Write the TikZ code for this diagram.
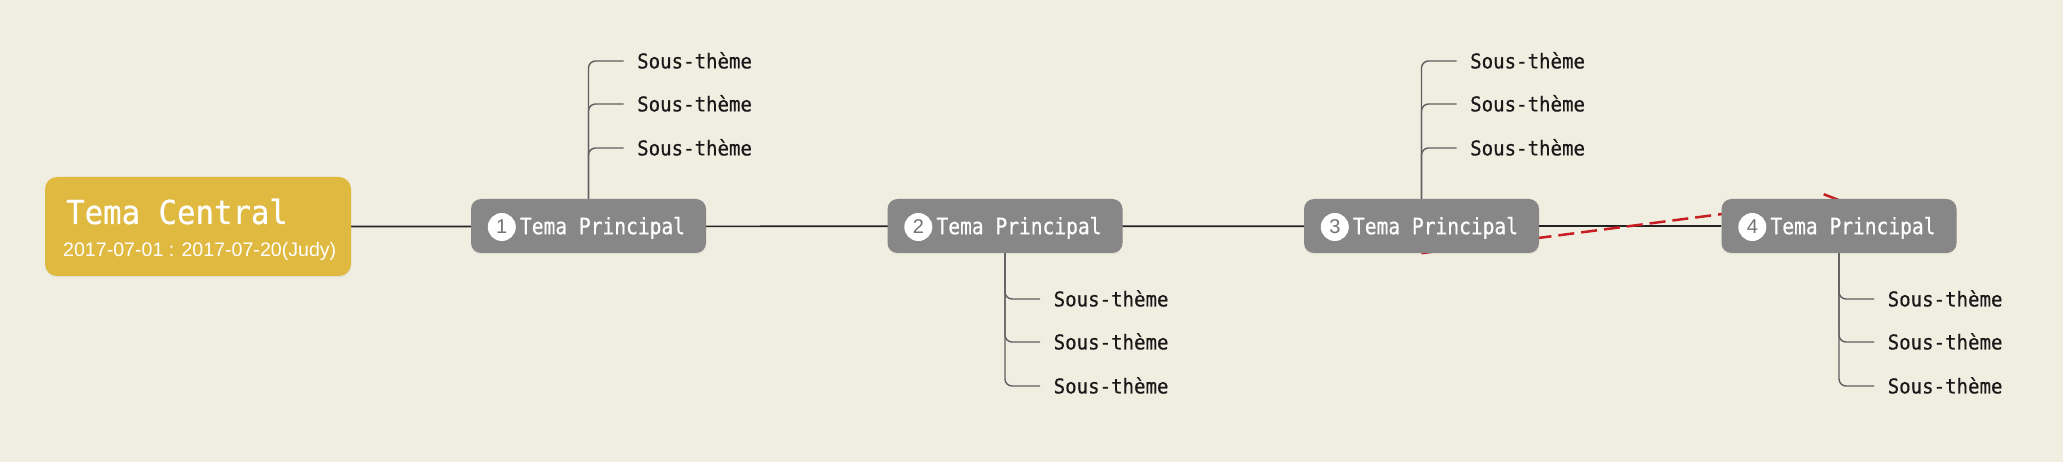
\documentclass[tikz,border=0pt]{standalone}
\usepackage{fontspec}
\setmainfont{Liberation Sans}
\newfontfamily\nodefont[FakeStretch=0.87,FakeBold=0.5]{DejaVu Sans Mono}
\newfontfamily\subfont[FakeStretch=0.93,FakeBold=0.5]{DejaVu Sans Mono}
\newfontfamily\titlefont[FakeStretch=0.93,FakeBold=0.5]{DejaVu Sans Mono}
\usetikzlibrary{arrows.meta,shadows}
\definecolor{bgc}{RGB}{240,237,225}
\definecolor{gold}{RGB}{224,185,65}
\definecolor{topic}{RGB}{135,135,135}
\definecolor{branch}{RGB}{95,95,95}
\definecolor{redc}{RGB}{200,30,35}
\definecolor{mainc}{RGB}{35,35,35}
\pgfdeclarelayer{back}
\pgfdeclarelayer{bg}
\pgfsetlayers{back,bg,main}
\begin{document}
\begin{tikzpicture}[x=1pt,y=-1pt,
  topicbox/.style={fill=topic, rounded corners=10pt, minimum width=235pt, minimum height=54pt,
    inner sep=0pt, text=white, font=\nodefont\fontsize{22.5}{24}\selectfont,
    text height=16.4pt, text depth=0pt,
    drop shadow={opacity=0.10, shadow xshift=0pt, shadow yshift=-1.5pt}},
  centralbox/.style={fill=gold, rounded corners=12pt, minimum width=306pt, minimum height=99pt,
    inner sep=0pt, drop shadow={opacity=0.10, shadow xshift=0pt, shadow yshift=-1.5pt}},
  numcirc/.style={circle, fill=white, minimum size=28pt, inner sep=0pt, text=topic!85!black,
    font=\fontsize{20}{21}\selectfont},
  subtext/.style={anchor=west, inner xsep=13.5pt, inner ysep=0pt, text=black!90,
    font=\subfont\fontsize{20.5}{22}\selectfont, text height=14.9pt, text depth=0pt},
  branchline/.style={draw=branch, line width=1.4pt, rounded corners=7pt},
  mainline/.style={draw=mainc, line width=1.7pt},
  relline/.style={draw=redc, line width=2.5pt, dash pattern=on 16pt off 7pt,
    -{Straight Barb[length=12pt,width=13pt]}}
]
\begin{pgfonlayer}{back}
  \fill[bgc] (0,0) rectangle (2063,462);
\end{pgfonlayer}
\useasboundingbox (0,0) rectangle (2063,462);

% central topic
\node[centralbox] (c) at (198,226.5) {};
\node[anchor=base west, inner sep=0pt, text=white, font=\titlefont\fontsize{33}{36}\selectfont] (ct) at (66,224) {Tema Central};
\node[anchor=base west, inner sep=0pt, text=white, font=\fontsize{19.6}{21}\selectfont] (cd) at (63,256.5) {2017-07-01 : 2017-07-20(Judy)};

% main topics
\node[topicbox] (n1) at (588.5,226) {\hspace*{28pt}Tema Principal};
\node[topicbox] (n2) at (1005,226) {\hspace*{28pt}Tema Principal};
\node[topicbox] (n3) at (1421.5,226) {\hspace*{28pt}Tema Principal};
\node[topicbox] (n4) at (1839,226) {\hspace*{28pt}Tema Principal};

\node[numcirc] (k1) at ([xshift=31pt,yshift=-1pt]n1.west) {1};
\node[numcirc] (k2) at ([xshift=31pt,yshift=-1pt]n2.west) {2};
\node[numcirc] (k3) at ([xshift=31pt,yshift=-1pt]n3.west) {3};
\node[numcirc] (k4) at ([xshift=31pt,yshift=-1pt]n4.west) {4};

% sub topics
\node[subtext] (s1a) at (623.5,61) {Sous-thème};
\node[subtext] (s1b) at (623.5,104) {Sous-thème};
\node[subtext] (s1c) at (623.5,148) {Sous-thème};
\node[subtext] (s2a) at (1040,299) {Sous-thème};
\node[subtext] (s2b) at (1040,342) {Sous-thème};
\node[subtext] (s2c) at (1040,386) {Sous-thème};
\node[subtext] (s3a) at (1456.5,61) {Sous-thème};
\node[subtext] (s3b) at (1456.5,104) {Sous-thème};
\node[subtext] (s3c) at (1456.5,148) {Sous-thème};
\node[subtext] (s4a) at (1874,299) {Sous-thème};
\node[subtext] (s4b) at (1874,342) {Sous-thème};
\node[subtext] (s4c) at (1874,386) {Sous-thème};

\begin{pgfonlayer}{bg}
  \draw[mainline] (c.east) -- (n4.west);
  \draw[branchline] (n1.north) |- (s1a.west);
  \draw[branchline] (n1.north) |- (s1b.west);
  \draw[branchline] (n1.north) |- (s1c.west);
  \draw[branchline] (n2.south) |- (s2a.west);
  \draw[branchline] (n2.south) |- (s2b.west);
  \draw[branchline] (n2.south) |- (s2c.west);
  \draw[branchline] (n3.north) |- (s3a.west);
  \draw[branchline] (n3.north) |- (s3b.west);
  \draw[branchline] (n3.north) |- (s3c.west);
  \draw[branchline] (n4.south) |- (s4a.west);
  \draw[branchline] (n4.south) |- (s4b.west);
  \draw[branchline] (n4.south) |- (s4c.west);
  \draw[relline] (n3.south) -- (n4.north);
\end{pgfonlayer}
\end{tikzpicture}
\end{document}
